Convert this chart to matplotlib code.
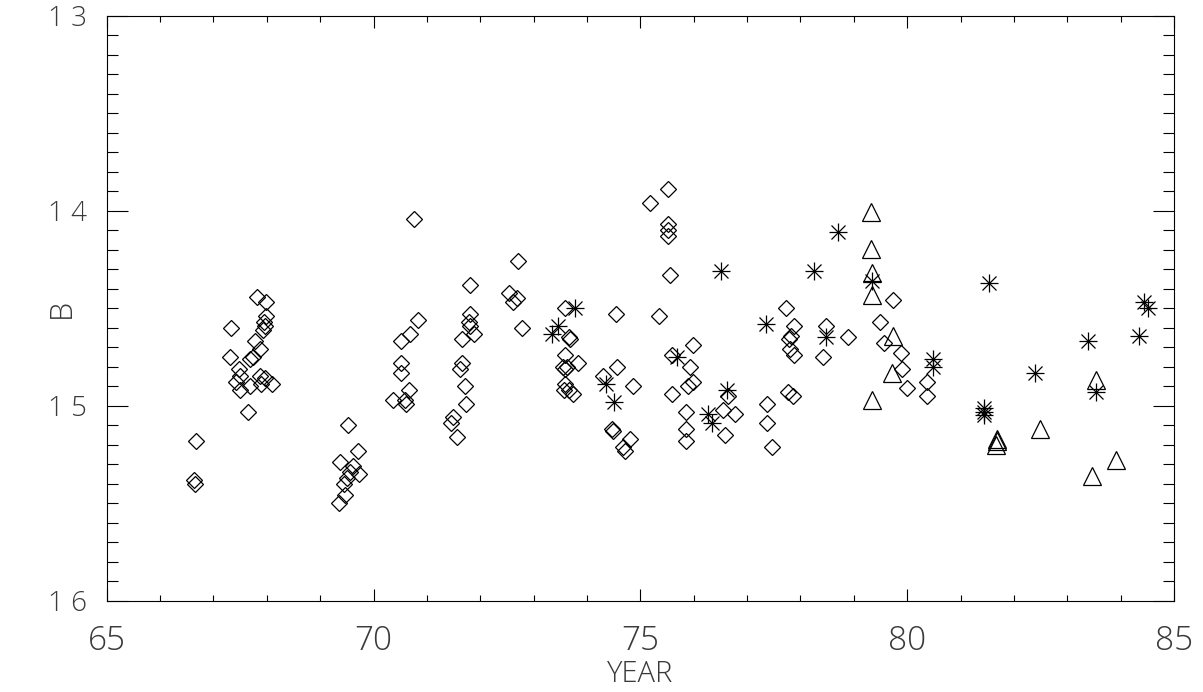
import numpy as np
import matplotlib
matplotlib.use('Agg')
import matplotlib.pyplot as plt
import matplotlib.ticker as mtick
from matplotlib import font_manager

# diamonds
dia_year = [66.67, 66.64, 66.65,
            67.82, 67.98, 67.33, 67.98, 67.94, 67.97, 67.93, 67.78, 67.87, 67.75, 67.31, 67.69,
            67.47, 67.50, 67.42, 67.87, 67.69, 67.50, 67.90, 68.09, 67.64, 67.97,
            69.53, 69.70, 69.38, 69.62, 69.56, 69.73, 69.50, 69.45, 69.47, 69.36,
            70.76, 70.83, 70.68, 70.51, 70.51, 70.51, 70.67, 70.37, 70.59, 70.61,
            71.81, 71.81, 71.79, 71.81, 71.89, 71.65, 71.65, 71.62, 71.71, 71.73, 71.49, 71.46, 71.56,
            72.54, 72.68, 72.61, 72.70, 72.78,
            73.59, 73.67, 73.68, 73.59, 73.55, 73.59, 73.63, 73.84, 73.59, 73.56, 73.74, 73.67,
            74.54, 74.56, 74.30, 74.87, 74.46, 74.48, 74.81, 74.67, 74.71,
            75.35, 75.51, 75.18, 75.52, 75.52, 75.52, 75.55, 75.59, 75.99, 75.93, 75.99, 75.90,
            75.59, 75.85, 75.85, 75.85,
            76.65, 76.55, 76.77, 76.59,
            77.72, 77.88, 77.83, 77.79, 77.80, 77.88, 77.77, 77.86, 77.38, 77.38, 77.46,
            78.47, 78.43, 78.90,
            79.73, 79.49, 79.56, 79.88, 79.90, 79.99, 80.38, 80.38]
dia_b = [15.18, 15.38, 15.40,
         14.44, 14.47, 14.60, 14.54, 14.57, 14.59, 14.61, 14.67, 14.71, 14.75, 14.75, 14.76,
         14.81, 14.85, 14.88, 14.85, 14.90, 14.92, 14.89, 14.89, 15.03, 14.86,
         15.10, 15.23, 15.29, 15.31, 15.34, 15.35, 15.37, 15.40, 15.46, 15.50,
         14.04, 14.56, 14.63, 14.67, 14.78, 14.83, 14.92, 14.97, 14.97, 14.99,
         14.38, 14.53, 14.57, 14.59, 14.63, 14.66, 14.78, 14.81, 14.90, 14.99, 15.06, 15.09, 15.16,
         14.42, 14.45, 14.47, 14.26, 14.60,
         14.50, 14.65, 14.66, 14.74, 14.80, 14.81, 14.80, 14.78, 14.89, 14.92, 14.94, 14.92,
         14.53, 14.80, 14.85, 14.90, 15.12, 15.13, 15.17, 15.21, 15.23,
         14.54, 13.89, 13.96, 14.07, 14.10, 14.13, 14.33, 14.74, 14.69, 14.80, 14.88, 14.90,
         14.94, 15.03, 15.12, 15.18,
         14.95, 15.02, 15.04, 15.15,
         14.50, 14.59, 14.64, 14.66, 14.71, 14.74, 14.93, 14.95, 14.99, 15.09, 15.21,
         14.59, 14.75, 14.65,
         14.46, 14.57, 14.68, 14.73, 14.81, 14.91, 14.88, 14.95]

# asterisks
star_year = [73.77, 73.46, 73.34, 74.36, 74.51, 75.68, 76.27, 76.35, 76.62, 76.52,
             77.35, 78.26, 78.70, 78.47, 79.35, 80.48, 80.48, 81.53, 81.44, 81.44,
             81.44, 82.39, 83.38, 83.53, 84.35, 84.44, 84.52]
star_b = [14.50, 14.59, 14.63, 14.89, 14.98, 14.75, 15.04, 15.09, 14.92, 14.31,
          14.58, 14.31, 14.11, 14.65, 14.36, 14.76, 14.80, 14.37, 15.01, 15.03,
          15.05, 14.83, 14.67, 14.93, 14.64, 14.47, 14.50]

# triangles
tri_year = [79.33, 79.33, 79.35, 79.35, 79.73, 79.72, 79.35, 81.68, 81.68, 81.66,
            82.49, 83.53, 83.46, 83.92]
tri_b = [14.005, 14.196, 14.32, 14.43, 14.64, 14.83, 14.97, 15.17, 15.18, 15.20,
         15.12, 14.87, 15.36, 15.28]

x_ticks = [65, 70, 75, 80, 85]
y_ticks = [13, 14, 15, 16]


def pick_font(want_light):
    # look for a thin sans if one is installed, else fall back
    for fam in ['Open Sans', 'Roboto', 'Lato', 'Inter', 'Noto Sans']:
        for f in font_manager.fontManager.ttflist:
            if f.name == fam and f.style == 'normal':
                w = f.weight if isinstance(f.weight, int) else 400
                if want_light and w <= 300:
                    return fam, w
    return 'Liberation Sans', 'normal'


fam, wt = pick_font(True)
txt_color = '#3a3a3a'

fig = plt.figure(figsize=(12.03, 6.92), dpi=100)
ax1 = fig.add_axes([106.7 / 1203, 1 - 600.7 / 692, (1174 - 106.7) / 1203, (600.7 - 15.7) / 692])

ax1.plot(dia_year, dia_b, linestyle='none', marker='D', markersize=8.4,
         markerfacecolor='none', markeredgecolor='black', markeredgewidth=0.9)
ax1.plot(star_year, star_b, linestyle='none', marker='+', markersize=13,
         markeredgecolor='black', markeredgewidth=0.9)
ax1.plot(star_year, star_b, linestyle='none', marker='x', markersize=10.5,
         markeredgecolor='black', markeredgewidth=0.9)
ax1.plot(tri_year, tri_b, linestyle='none', marker='^', markersize=13,
         markerfacecolor='none', markeredgecolor='black', markeredgewidth=0.9)

ax1.set_xlim(65, 85)
ax1.set_ylim(16, 13)
ax1.set_xticks(x_ticks)
ax1.set_yticks(y_ticks)
ax1.xaxis.set_minor_locator(mtick.MultipleLocator(1))
ax1.yaxis.set_minor_locator(mtick.MultipleLocator(0.1))
ax1.set_xticklabels([str(v) for v in x_ticks], fontfamily=fam, fontweight=wt, fontsize=24, color=txt_color)
ax1.set_yticklabels([' '.join(str(v)) for v in y_ticks], fontfamily=fam, fontweight=wt, fontsize=20, color=txt_color)

ax1.tick_params(which='both', direction='in', top=True, right=True, color='black', width=0.8)
ax1.tick_params(axis='x', which='major', length=8.4, pad=17)
ax1.tick_params(axis='x', which='minor', length=4.2)
ax1.tick_params(axis='y', which='major', length=15.1, pad=14)
ax1.tick_params(axis='y', which='minor', length=7.7)
for sp in ax1.spines.values():
    sp.set_linewidth(0.8)

ax1.set_xlabel('YEAR', fontfamily=fam, fontweight=wt, fontsize=21, color=txt_color, labelpad=1)
ax1.set_ylabel('B', fontfamily=fam, fontweight=wt, fontsize=22, color=txt_color)
ax1.yaxis.set_label_coords(-0.027, 0.5)

plt.savefig('out.png', dpi=100)
